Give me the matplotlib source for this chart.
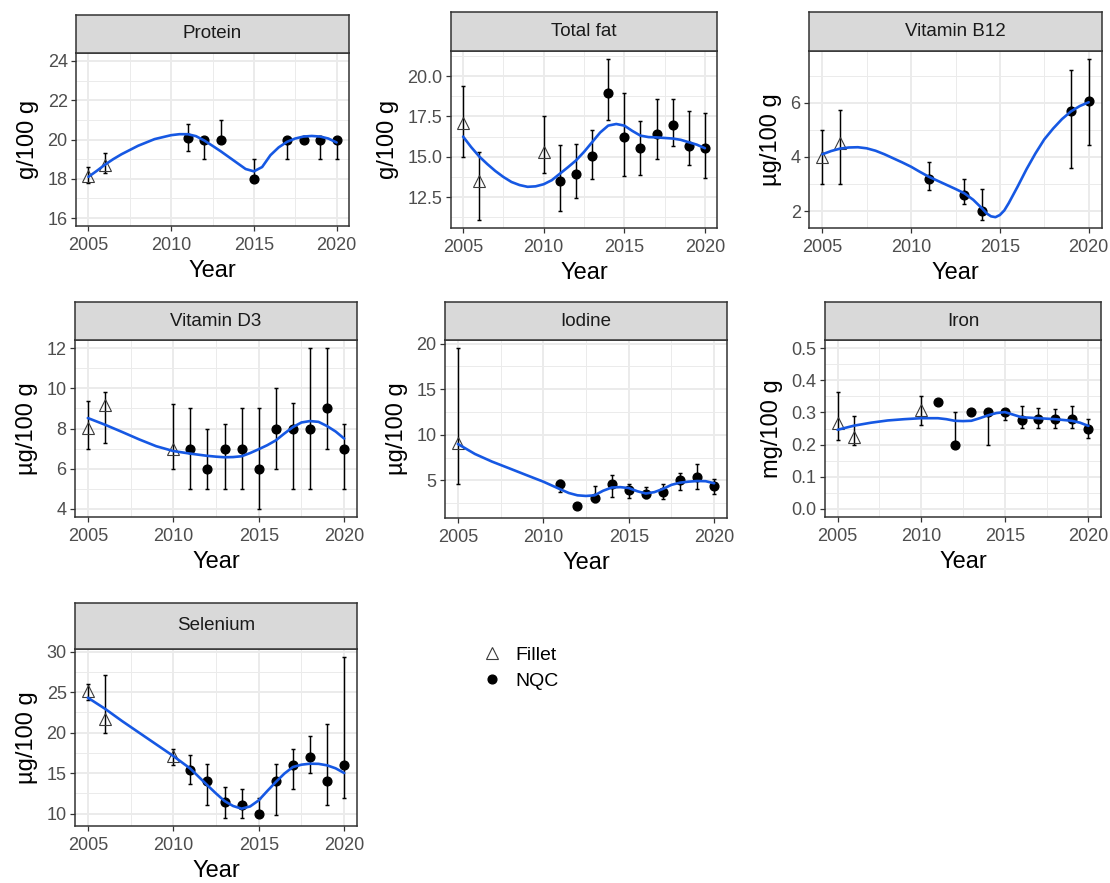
import matplotlib
matplotlib.use("Agg")
import matplotlib.pyplot as plt
from matplotlib.lines import Line2D

plt.rcParams['font.family'] = ['Liberation Sans', 'DejaVu Sans']

# ---------------- DATA ----------------
# Protein
protein_fillet_year = [2005, 2006]
protein_fillet_val = [18.15, 18.72]
protein_fillet_lo = [17.8, 18.3]
protein_fillet_hi = [18.6, 19.3]
protein_nqc_year = [2011, 2012, 2013, 2015, 2017, 2018, 2019, 2020]
protein_nqc_val = [20.1, 20.0, 20.0, 18.0, 20.0, 20.0, 20.0, 20.0]
protein_nqc_lo = [19.4, 19.0, 20.0, 18.0, 19.0, 20.0, 19.0, 19.0]
protein_nqc_hi = [20.8, 20.0, 21.0, 19.0, 20.0, 20.0, 20.0, 20.0]
protein_curve_year = [2005, 2005.5, 2006, 2006.5, 2007, 2008, 2009, 2010, 2010.5, 2011, 2011.5,
                      2012, 2012.5, 2013, 2013.5, 2014, 2014.5, 2015, 2015.5, 2016, 2016.5,
                      2017, 2017.5, 2018, 2018.5, 2019, 2019.5, 2020]
protein_curve_val = [18.1, 18.4, 18.72, 19.0, 19.25, 19.68, 20.02, 20.22, 20.27, 20.27, 20.17,
                     19.95, 19.68, 19.4, 19.1, 18.8, 18.5, 18.38, 18.6, 19.2, 19.6,
                     19.88, 20.05, 20.15, 20.18, 20.15, 20.05, 19.85]
protein_yticks = [16, 18, 20, 22, 24]
protein_yticklabels = ["16", "18", "20", "22", "24"]

# Total fat
fat_fillet_year = [2005, 2006, 2010]
fat_fillet_val = [17.07, 13.5, 15.29]
fat_fillet_lo = [14.98, 11.09, 14.0]
fat_fillet_hi = [19.39, 15.29, 17.5]
fat_nqc_year = [2011, 2012, 2013, 2014, 2015, 2016, 2017, 2018, 2019, 2020]
fat_nqc_val = [13.48, 13.91, 15.06, 18.95, 16.23, 15.57, 16.41, 16.95, 15.68, 15.53]
fat_nqc_lo = [11.66, 12.46, 13.63, 17.3, 13.79, 13.85, 14.86, 15.66, 14.51, 13.67]
fat_nqc_hi = [15.72, 15.78, 16.64, 21.05, 18.95, 17.23, 18.6, 18.6, 17.83, 17.73]
fat_curve_year = [2005, 2005.5, 2006, 2006.5, 2007, 2007.5, 2008, 2008.5, 2009, 2009.5, 2010,
                  2010.5, 2011, 2011.5, 2012, 2012.5, 2013, 2013.5, 2014, 2014.5, 2015,
                  2015.5, 2016, 2016.5, 2017, 2018, 2018.5, 2019, 2019.5, 2020]
fat_curve_val = [16.25, 15.6, 15.02, 14.55, 14.12, 13.75, 13.44, 13.25, 13.14, 13.17, 13.3,
                 13.55, 13.95, 14.35, 14.77, 15.3, 15.9, 16.5, 16.93, 17.03, 16.93,
                 16.6, 16.31, 16.22, 16.2, 16.13, 16.05, 15.9, 15.75, 15.53]
fat_yticks = [12.5, 15.0, 17.5, 20.0]
fat_yticklabels = ["12.5", "15.0", "17.5", "20.0"]

# Vitamin B12
b12_fillet_year = [2005, 2006]
b12_fillet_val = [4.0, 4.52]
b12_fillet_lo = [3.0, 3.0]
b12_fillet_hi = [4.98, 5.74]
b12_nqc_year = [2011, 2013, 2014, 2019, 2020]
b12_nqc_val = [3.19, 2.6, 2.0, 5.68, 6.05]
b12_nqc_lo = [2.78, 2.27, 1.68, 3.6, 4.46]
b12_nqc_hi = [3.81, 3.19, 2.81, 7.2, 7.61]
b12_curve_year = [2005, 2005.5, 2006, 2006.5, 2007, 2007.5, 2008, 2008.5, 2009, 2009.5, 2010,
                  2010.5, 2011, 2011.5, 2012, 2012.5, 2013, 2013.5, 2014, 2014.25, 2014.5,
                  2014.75, 2015, 2015.25, 2015.5, 2016, 2016.5, 2017, 2017.5, 2018, 2018.5,
                  2019, 2019.5, 2020]
b12_curve_val = [4.1, 4.22, 4.31, 4.35, 4.36, 4.32, 4.23, 4.1, 3.95, 3.8, 3.64,
                 3.45, 3.27, 3.12, 2.97, 2.82, 2.66, 2.42, 2.1, 1.92, 1.81,
                 1.78, 1.86, 2.03, 2.3, 2.91, 3.55, 4.13, 4.65, 5.05, 5.4,
                 5.68, 5.88, 6.02]
b12_yticks = [2, 4, 6]
b12_yticklabels = ["2", "4", "6"]

# Vitamin D3
d3_fillet_year = [2005, 2006, 2010]
d3_fillet_val = [8.04, 9.19, 7.0]
d3_fillet_lo = [7.0, 7.28, 6.0]
d3_fillet_hi = [9.39, 9.81, 9.21]
d3_nqc_year = [2011, 2012, 2013, 2014, 2015, 2016, 2017, 2018, 2019, 2020]
d3_nqc_val = [7.0, 6.0, 7.0, 7.0, 6.0, 8.0, 8.0, 8.0, 9.0, 7.0]
d3_nqc_lo = [5.0, 5.0, 5.0, 5.0, 4.0, 6.0, 5.0, 5.0, 7.0, 5.0]
d3_nqc_hi = [9.0, 8.0, 8.24, 9.0, 9.0, 10.0, 9.26, 12.0, 12.0, 8.24]
d3_curve_year = [2005, 2006, 2007, 2008, 2009, 2010, 2011, 2012, 2012.5, 2013, 2013.5, 2014,
                 2014.5, 2015, 2015.5, 2016, 2016.5, 2017, 2017.5, 2018, 2018.5, 2019,
                 2019.5, 2020]
d3_curve_val = [8.52, 8.19, 7.83, 7.46, 7.12, 6.88, 6.75, 6.64, 6.6, 6.57, 6.58, 6.62,
                6.78, 6.97, 7.17, 7.41, 7.75, 8.07, 8.3, 8.37, 8.33, 8.12,
                7.85, 7.5]
d3_yticks = [4, 6, 8, 10, 12]
d3_yticklabels = ["4", "6", "8", "10", "12"]

# Iodine
iod_fillet_year = [2005]
iod_fillet_val = [9.06]
iod_fillet_lo = [4.56]
iod_fillet_hi = [19.49]
iod_nqc_year = [2011, 2012, 2013, 2014, 2015, 2016, 2017, 2018, 2019, 2020]
iod_nqc_val = [4.6, 2.18, 3.1, 4.56, 3.94, 3.53, 3.72, 5.03, 5.4, 4.38]
iod_nqc_lo = [3.75, 2.18, 2.66, 3.17, 3.06, 3.06, 2.95, 3.94, 4.05, 3.53]
iod_nqc_hi = [5.03, 2.18, 4.41, 5.62, 4.56, 4.23, 4.6, 5.77, 6.83, 5.14]
iod_curve_year = [2005, 2006, 2007, 2008, 2009, 2010, 2011, 2011.5, 2012, 2012.5, 2013,
                  2013.5, 2014, 2014.5, 2015, 2015.5, 2016, 2016.5, 2017, 2017.5, 2018,
                  2018.5, 2019, 2019.5, 2020]
iod_curve_val = [8.99, 7.89, 7.05, 6.32, 5.58, 4.85, 4.01, 3.6, 3.35, 3.28, 3.35,
                 3.85, 4.2, 4.25, 4.15, 3.8, 3.55, 3.7, 4.05, 4.5, 4.74,
                 4.85, 4.92, 4.9, 4.67]
iod_yticks = [5, 10, 15, 20]
iod_yticklabels = ["5", "10", "15", "20"]

# Iron
iron_fillet_year = [2005, 2006, 2010]
iron_fillet_val = [0.266, 0.223, 0.306]
iron_fillet_lo = [0.213, 0.199, 0.261]
iron_fillet_hi = [0.362, 0.289, 0.351]
iron_nqc_year = [2011, 2012, 2013, 2014, 2015, 2016, 2017, 2018, 2019, 2020]
iron_nqc_val = [0.331, 0.2, 0.3, 0.3, 0.3, 0.275, 0.281, 0.281, 0.281, 0.25]
iron_nqc_lo = [0.331, 0.2, 0.3, 0.2, 0.277, 0.251, 0.251, 0.251, 0.251, 0.221]
iron_nqc_hi = [0.331, 0.3, 0.3, 0.3, 0.308, 0.32, 0.313, 0.31, 0.32, 0.281]
iron_curve_year = [2005, 2006, 2007, 2008, 2009, 2010, 2011, 2011.5, 2012, 2012.5, 2013,
                   2013.5, 2014, 2014.5, 2015, 2015.5, 2016, 2017, 2018, 2019, 2019.5, 2020]
iron_curve_val = [0.246, 0.259, 0.268, 0.275, 0.279, 0.282, 0.282, 0.279, 0.274, 0.273, 0.274,
                  0.282, 0.291, 0.298, 0.301, 0.293, 0.285, 0.282, 0.279, 0.274, 0.268, 0.258]
iron_yticks = [0.0, 0.1, 0.2, 0.3, 0.4, 0.5]
iron_yticklabels = ["0.0", "0.1", "0.2", "0.3", "0.4", "0.5"]

# Selenium
se_fillet_year = [2005, 2006, 2010]
se_fillet_val = [25.14, 21.73, 17.12]
se_fillet_lo = [24.07, 20.0, 16.0]
se_fillet_hi = [26.05, 27.08, 18.02]
se_nqc_year = [2011, 2012, 2013, 2014, 2015, 2016, 2017, 2018, 2019, 2020]
se_nqc_val = [15.35, 13.99, 11.44, 11.03, 10.0, 14.03, 16.0, 17.0, 14.03, 16.0]
se_nqc_lo = [13.62, 11.03, 9.47, 9.47, 10.0, 9.79, 13.0, 15.02, 11.03, 11.98]
se_nqc_hi = [17.2, 16.09, 13.29, 13.09, 11.98, 16.09, 17.98, 19.59, 21.03, 29.34]
se_curve_year = [2005, 2006, 2007, 2008, 2009, 2010, 2011, 2012, 2012.5, 2013, 2013.5, 2014,
                 2014.5, 2015, 2015.5, 2016, 2016.5, 2017, 2017.5, 2018, 2018.5, 2019,
                 2019.5, 2020]
se_curve_val = [24.32, 22.96, 21.44, 20.0, 18.56, 17.12, 15.56, 13.5, 12.5, 11.56, 10.95, 10.62,
                10.9, 11.65, 12.8, 13.91, 14.95, 15.76, 16.05, 16.17, 16.15, 15.97,
                15.6, 15.02]
se_yticks = [10, 15, 20, 25, 30]
se_yticklabels = ["10", "15", "20", "25", "30"]

xticks = [2005, 2010, 2015, 2020]
xticklabels = ["2005", "2010", "2015", "2020"]
legend_labels = ["Fillet", "NQC"]

# ---------------- STYLE / LAYOUT ----------------
W, H = 1110, 883
fig = plt.figure(figsize=(W / 100, H / 100), dpi=100)

BLUE = "#1658E3"
GRID = "#EBEBEB"
BORDER = "#333333"


def add_rect(x0, y0, x1, y1):
    return fig.add_axes([x0 / W, 1 - y1 / H, (x1 - x0) / W, (y1 - y0) / H])


def panel(rect, strip_top, title, ylabel, ylim, yticks, yticklabels, yminor,
          fy, fv, flo, fhi, ny, nv, nlo, nhi, cy, cv):
    x0, y0, x1, y1 = rect
    ax = add_rect(x0, y0, x1, y1)
    st = add_rect(x0, strip_top, x1, y0)
    # strip
    st.set_facecolor("#D9D9D9")
    st.set_xticks([])
    st.set_yticks([])
    for s in st.spines.values():
        s.set_color(BORDER)
        s.set_linewidth(1.1)
    st.text(0.5, 0.5, title, ha="center", va="center", fontsize=13.5,
            color="#1A1A1A", transform=st.transAxes)
    # grid
    ax.set_xlim(2004.25, 2020.75)
    ax.set_ylim(*ylim)
    ax.set_xticks(xticks)
    ax.set_xticklabels(xticklabels)
    ax.set_yticks(yticks)
    ax.set_yticklabels(yticklabels)
    ax.set_xticks([2007.5, 2012.5, 2017.5], minor=True)
    ax.set_yticks(yminor, minor=True)
    ax.grid(True, which="major", color=GRID, linewidth=1.4, zorder=0)
    ax.grid(True, which="minor", color=GRID, linewidth=0.7, zorder=0)
    ax.set_axisbelow(True)
    ax.tick_params(which="minor", length=0)
    ax.tick_params(which="major", length=3.5, width=0.9, color=BORDER,
                   labelcolor="#4D4D4D", labelsize=13)
    ax.tick_params(axis="x", which="major", pad=4.5)
    ax.tick_params(axis="y", which="major", pad=2.5)
    for s in ax.spines.values():
        s.set_color(BORDER)
        s.set_linewidth(1.1)
    # error bars
    ferr = [[v - l for v, l in zip(fv, flo)], [h - v for v, h in zip(fv, fhi)]]
    nerr = [[v - l for v, l in zip(nv, nlo)], [h - v for v, h in zip(nv, nhi)]]
    ax.errorbar(fy, fv, yerr=ferr, fmt="none", ecolor="black", elinewidth=1.05,
                capsize=1.6, capthick=1.05, zorder=2)
    ax.errorbar(ny, nv, yerr=nerr, fmt="none", ecolor="black", elinewidth=1.05,
                capsize=1.6, capthick=1.05, zorder=2)
    ax.plot(fy, fv, linestyle="none", marker="^", markersize=8.5,
            markerfacecolor="none", markeredgecolor="#3A3A3A", markeredgewidth=0.8, zorder=3)
    ax.plot(ny, nv, linestyle="none", marker="o", markersize=6.3,
            markerfacecolor="black", markeredgecolor="black", zorder=3)
    ax.plot(cy, cv, color=BLUE, linewidth=1.9, zorder=4, solid_capstyle="round",
            solid_joinstyle="round")
    ax.set_xlabel("Year", fontsize=17, labelpad=4)
    ax.set_ylabel(ylabel, fontsize=17, labelpad=6)
    return ax


panel((76, 53, 349, 226), 15, "Protein", "g/100 g", (15.6, 24.4),
      protein_yticks, protein_yticklabels, [17, 19, 21, 23],
      protein_fillet_year, protein_fillet_val, protein_fillet_lo, protein_fillet_hi,
      protein_nqc_year, protein_nqc_val, protein_nqc_lo, protein_nqc_hi,
      protein_curve_year, protein_curve_val)

panel((451, 51, 717, 228), 12, "Total fat", "g/100 g", (10.59, 21.55),
      fat_yticks, fat_yticklabels, [11.25, 13.75, 16.25, 18.75, 21.25],
      fat_fillet_year, fat_fillet_val, fat_fillet_lo, fat_fillet_hi,
      fat_nqc_year, fat_nqc_val, fat_nqc_lo, fat_nqc_hi,
      fat_curve_year, fat_curve_val)

panel((809, 51, 1102, 228), 12, "Vitamin B12", "µg/100 g", (1.38, 7.91),
      b12_yticks, b12_yticklabels, [3, 5, 7],
      b12_fillet_year, b12_fillet_val, b12_fillet_lo, b12_fillet_hi,
      b12_nqc_year, b12_nqc_val, b12_nqc_lo, b12_nqc_hi,
      b12_curve_year, b12_curve_val)

panel((75, 340, 357, 517), 302, "Vitamin D3", "µg/100 g", (3.6, 12.4),
      d3_yticks, d3_yticklabels, [5, 7, 9, 11],
      d3_fillet_year, d3_fillet_val, d3_fillet_lo, d3_fillet_hi,
      d3_nqc_year, d3_nqc_val, d3_nqc_lo, d3_nqc_hi,
      d3_curve_year, d3_curve_val)

panel((445, 340, 727, 518), 302, "Iodine", "µg/100 g", (0.86, 20.4),
      iod_yticks, iod_yticklabels, [2.5, 7.5, 12.5, 17.5],
      iod_fillet_year, iod_fillet_val, iod_fillet_lo, iod_fillet_hi,
      iod_nqc_year, iod_nqc_val, iod_nqc_lo, iod_nqc_hi,
      iod_curve_year, iod_curve_val)

panel((825, 340, 1101, 517), 302, "Iron", "mg/100 g", (-0.025, 0.525),
      iron_yticks, iron_yticklabels, [0.05, 0.15, 0.25, 0.35, 0.45],
      iron_fillet_year, iron_fillet_val, iron_fillet_lo, iron_fillet_hi,
      iron_nqc_year, iron_nqc_val, iron_nqc_lo, iron_nqc_hi,
      iron_curve_year, iron_curve_val)

panel((75, 649, 357, 826), 603, "Selenium", "µg/100 g", (8.48, 30.33),
      se_yticks, se_yticklabels, [12.5, 17.5, 22.5, 27.5],
      se_fillet_year, se_fillet_val, se_fillet_lo, se_fillet_hi,
      se_nqc_year, se_nqc_val, se_nqc_lo, se_nqc_hi,
      se_curve_year, se_curve_val)

handles = [
    Line2D([], [], linestyle="none", marker="^", markersize=8.5, markerfacecolor="none",
           markeredgecolor="#3A3A3A", markeredgewidth=0.8),
    Line2D([], [], linestyle="none", marker="o", markersize=6.3, markerfacecolor="black",
           markeredgecolor="black"),
]
fig.legend(handles, legend_labels, loc="center left", bbox_to_anchor=(471 / W, 1 - 668 / H),
           frameon=False, fontsize=14, handletextpad=0.6, labelspacing=0.45,
           handlelength=1.2, borderpad=0)

fig.savefig("out.png", dpi=100, facecolor="white")
